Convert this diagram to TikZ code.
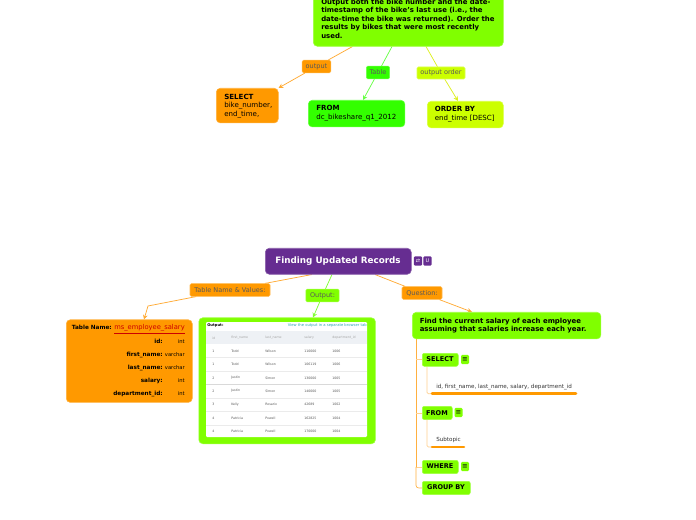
\documentclass[tikz,border=0pt]{standalone}
\usepackage{fontspec}
\setmainfont{DejaVu Sans}
\usetikzlibrary{backgrounds,arrows.meta}
\definecolor{oran}{HTML}{FF9900}
\definecolor{lime}{HTML}{80FF00}
\definecolor{grn}{HTML}{33FF00}
\definecolor{yel}{HTML}{CCFF00}
\definecolor{purp}{HTML}{662D91}
\definecolor{oline}{HTML}{FFAA33}
\definecolor{gline}{HTML}{80FF33}
\definecolor{fline}{HTML}{66FF44}
\definecolor{yline}{HTML}{DDF020}
\definecolor{trunk}{HTML}{FFB040}
\definecolor{twig}{HTML}{FFD090}
\definecolor{teal2}{HTML}{2AA5B5}
\definecolor{hdr}{HTML}{EEF1F5}
\tikzset{
 x=0.75pt,y=-0.75pt,
 boxn/.style={rounded corners=3pt,inner sep=0pt,anchor=north west,draw=#1!75!white,line width=0.4pt,fill=#1},
 btn/.style={rounded corners=1.6pt,inner sep=0pt,anchor=north west,draw=#1!75!white,line width=0.4pt,fill=#1},
 lab/.style={rounded corners=1pt,inner sep=0pt,draw=#1!70!white,line width=0.4pt,fill=#1,font=\fontsize{4.9}{5}\selectfont},
 txt/.style={inner sep=0pt,anchor=west,font=\fontsize{5.3}{6.5}\selectfont},
 tabname/.style={inner sep=0pt,anchor=east,text height=3.2pt,text depth=0.8pt,font=\fontsize{3.9}{5}\selectfont},
 tabkey/.style={inner sep=0pt,anchor=east,text height=3.2pt,text depth=0.8pt,font=\bfseries\fontsize{4.3}{5}\selectfont},
 conn/.style={line width=0.55pt},
 tip/.style={-{Stealth[length=3.5pt,width=3.5pt]}},
 cell/.style={inner sep=0pt,anchor=west,font=\fontsize{2.4}{3}\selectfont,text=black!65},
 head/.style={inner sep=0pt,anchor=west,font=\fontsize{2.4}{3}\selectfont,text=black!35},
 ic/.style={rounded corners=0.8pt,inner sep=0pt,minimum width=6pt,minimum height=6.8pt,fill=lime,font=\fontsize{5}{5}\selectfont},
 pic/.style={rounded corners=0.8pt,inner sep=0pt,minimum width=6.2pt,minimum height=6.8pt,fill=purp,text=white,font=\fontsize{4.5}{5}\selectfont},
 subt/.style={inner sep=0pt,anchor=west,font=\fontsize{4.2}{5}\selectfont,text=black!80},
 bar/.style={oran,line width=1.9pt,line cap=round},
 btntext/.style={inner sep=0pt,font=\bfseries\fontsize{4.9}{5}\selectfont},
}
\begin{document}
\begin{tikzpicture}
\useasboundingbox (0,0) rectangle (696,520);
% ---- top cluster
\begin{scope}
\clip (0,0) rectangle (696,520);
\node[boxn=lime,minimum width=142.5pt,minimum height=45pt] (task) at (313,-14) {};
\end{scope}
\node[txt,anchor=north west,text width=136pt,align=left,font=\bfseries\fontsize{5.2}{6.35}\selectfont] (tasktext) at (321,-1.2)
 {Output both the bike number and the date-\\timestamp of the bike's last use (i.e., the\\date-time the bike was returned). Order the\\results by bikes that were most recently\\used.};
\node[boxn=oran,minimum width=46.5pt,minimum height=26pt] (sel) at (216,88) {};
\node[txt,anchor=north west,align=left] (seltext) at (224,93.5) {\textbf{SELECT}\\bike\_number,\\end\_time,};
\node[boxn=grn,minimum width=72.5pt,minimum height=20pt] (from) at (308,100) {};
\node[txt,anchor=north west,align=left] (fromtext) at (316,105) {\textbf{FROM}\\dc\_bikeshare\_q1\_2012};
\node[boxn=yel,minimum width=57pt,minimum height=20pt] (order) at (427,101) {};
\node[txt,anchor=north west,align=left] (ordertext) at (434.5,106) {\textbf{ORDER BY}\\end\_time [DESC]};
\node[lab=oran,minimum width=21.5pt,minimum height=9.5pt,text=black!65] (l1) at (316.5,66.5) {output};
\node[lab=grn,minimum width=17.5pt,minimum height=9.5pt,text=black!65] (l2) at (378,72.5) {Table};
\node[lab=yel,minimum width=36pt,minimum height=9pt,text=black!65] (l3) at (441,73) {output order};
\begin{scope}[on background layer]
\fill[white] (0,0) rectangle (696,520);
\draw[conn,oline] ([xshift=39.5*0.75pt]task.south west) -- (l1);
\draw[conn,oline,tip] (l1) -- (sel.north east);
\draw[conn,fline] ([xshift=79*0.75pt]task.south west) -- (l2);
\draw[conn,fline,tip] (l2) -- ([xshift=55*0.75pt]from.north west);
\draw[conn,yline] ([xshift=113*0.75pt]task.south west) -- (l3);
\draw[conn,yline,tip] (l3) -- ([xshift=31*0.75pt]order.north west);
\end{scope}
% ---- root
\node[boxn=purp,minimum width=109.5pt,minimum height=19.5pt,text=white] (root) at (265,248) {};
\node[inner sep=0pt,text=white,font=\bfseries\fontsize{6.6}{7}\selectfont] (roottext) at (338,261) {Finding Updated Records};
\node[pic] (p1) at (418,261) {\fontsize{3.8}{4}\selectfont ⇄};
\node[pic] (p2) at (427.5,261) {\fontsize{3.8}{4}\selectfont U};
% ---- table box
\node[boxn=oran,minimum width=94.5pt,minimum height=62pt] (tbl) at (66,319.5) {};
\node[tabkey] (t0) at (112,328) {Table Name:};
\node[inner sep=0pt,anchor=east,text height=3.2pt,text depth=0.8pt,text=red!80!black,font=\fontsize{5.05}{5}\selectfont] (t0v) at (185,328) {\underline{ms\_employee\_salary}};
\node[tabkey] (t1) at (163,342) {id:};
\node[tabname] (t1v) at (185,342) {int};
\node[tabkey] (t2) at (163,355) {first\_name:};
\node[tabname] (t2v) at (185,355) {varchar};
\node[tabkey] (t3) at (163,368) {last\_name:};
\node[tabname] (t3v) at (185,368) {varchar};
\node[tabkey] (t4) at (163,381) {salary:};
\node[tabname] (t4v) at (185,381) {int};
\node[tabkey] (t5) at (163,394) {department\_id:};
\node[tabname] (t5v) at (185,394) {int};
% ---- image box
\node[boxn=lime,minimum width=132.5pt,minimum height=94.5pt] (img) at (198.5,317.5) {};
\fill[white,rounded corners=0.8pt] (206,322) rectangle (367,437);
\fill[hdr] (206,331) rectangle (367,344);
\foreach \yy in {357.5,371,398,411.5,425} \draw[black!8,line width=0.3pt] (206,\yy) -- (367,\yy);
\draw[black!15,line width=0.5pt] (206,384.5) -- (367,384.5);
\node[inner sep=0pt,anchor=west,font=\bfseries\fontsize{2.8}{3}\selectfont] (otitle) at (207,325.5) {Output:};
\node[inner sep=0pt,anchor=east,text=teal2,font=\fontsize{2.8}{3}\selectfont] (olink) at (367,325.5) {View the output in a separate browser tab};
\foreach \nm/\xx/\tt in {a/212/id,b/231/first\_name,c/265/last\_name,d/304/salary,e/332/department\_id}
 \node[head] (h\nm) at (\xx,338) {\tt};
\foreach \rr/\yy/\i/\f/\l/\s/\dd in {
 1/351/1/Todd/Wilson/110000/1006,
 2/364.5/1/Todd/Wilson/106119/1006,
 3/378/2/Justin/Simon/130000/1005,
 4/391/2/Justin/Simon/140000/1005,
 5/404.7/3/Kelly/Rosario/42689/1002,
 6/418/4/Patricia/Powell/162825/1004,
 7/431/4/Patricia/Powell/170000/1004}{
 \node[cell] (r\rr a) at (212,\yy) {\i};
 \node[cell] (r\rr b) at (231,\yy) {\f};
 \node[cell] (r\rr c) at (265,\yy) {\l};
 \node[cell] (r\rr d) at (304,\yy) {\s};
 \node[cell] (r\rr e) at (332,\yy) {\dd};
}
% ---- question
\node[boxn=lime,minimum width=141.5pt,minimum height=20pt] (q) at (412,312) {};
\node[txt,anchor=north west,align=left,font=\bfseries\fontsize{5.2}{6}\selectfont] (qtext) at (419.5,317.5) {Find the current salary of each employee\\assuming that salaries increase each year.};
% ---- relation labels
\node[lab=oran,minimum width=60pt,minimum height=9.5pt,text=black!65] (l4) at (230,290) {Table Name \& Values:};
\node[lab=lime,minimum width=25pt,minimum height=9.5pt,text=black!65] (l5) at (322.5,295.5) {Output:};
\node[lab=oran,minimum width=30pt,minimum height=9.5pt,text=black!65] (l6) at (422,293) {Question:};
\coordinate (elbow) at (148,306);
\begin{scope}[on background layer]
\draw[conn,oline] ([xshift=47*0.75pt]root.south west) -- (l4);
\draw[conn,oline,tip] (l4) -- (elbow) -- ([xshift=78*0.75pt]tbl.north west);
\draw[conn,gline] ([xshift=67*0.75pt]root.south west) -- (l5);
\draw[conn,gline,tip] (l5) -- ([xshift=114.5*0.75pt]img.north west);
\draw[conn,oline] ([xshift=110*0.75pt]root.south west) -- (l6);
\draw[conn,oline,tip] (l6) -- ([xshift=60*0.75pt]q.north west);
\end{scope}
% ---- children
\node[btn=lime,minimum width=27pt,minimum height=9.8pt] (cs) at (422,353) {};
\node[btntext] (cstext) at (440,359.5) {SELECT};
\node[ic] (is) at (465,359.5) {≡};
\node[btn=lime,minimum width=22.5pt,minimum height=10pt] (cf) at (422,406) {};
\node[btntext] (cftext) at (437,413) {FROM};
\node[ic] (if) at (458.5,412.5) {≡};
\node[btn=lime,minimum width=27pt,minimum height=10pt] (cw) at (422,460) {};
\node[btntext] (cwtext) at (440,466.5) {WHERE};
\node[ic] (iw) at (465,466.5) {≡};
\node[btn=lime,minimum width=36pt,minimum height=10pt] (cg) at (422,481) {};
\node[btntext] (cgtext) at (446,487.5) {GROUP BY};
\node[subt] (s1) at (436,387) {id, first\_name, last\_name, salary, department\_id};
\node[subt] (s2) at (436,440) {Subtopic};
\coordinate (b1a) at (432,393.7); \coordinate (b1b) at (576,393.7);
\coordinate (b2a) at (432,447); \coordinate (b2b) at (464,447);
\draw[bar] (b1a) -- (b1b);
\draw[bar] (b2a) -- (b2b);
\begin{scope}[on background layer]
\coordinate (q0) at ([xshift=4*0.75pt]q.south west);
\draw[trunk,line width=0.75pt] (q0) -- (q0 |- cw.west);
\draw[twig,line width=0.5pt] (q0 |- cs.west) -- (cs.west);
\draw[twig,line width=0.5pt] (q0 |- cf.west) -- (cf.west);
\draw[twig,line width=0.5pt] (q0 |- cw.west) -- (cw.west);
\draw[trunk,line width=0.5pt,rounded corners=2pt] (q0 |- cw.west) -- (q0 |- cg.west) -- (cg.west);
\coordinate (c1) at ([xshift=5*0.75pt]cs.south west);
\draw[twig,line width=0.5pt,rounded corners=1pt] (c1) -- (c1 |- b1a) -- (b1a);
\coordinate (c2) at ([xshift=5*0.75pt]cf.south west);
\draw[twig,line width=0.5pt,rounded corners=1pt] (c2) -- (c2 |- b2a) -- (b2a);
\end{scope}
\end{tikzpicture}
\end{document}
